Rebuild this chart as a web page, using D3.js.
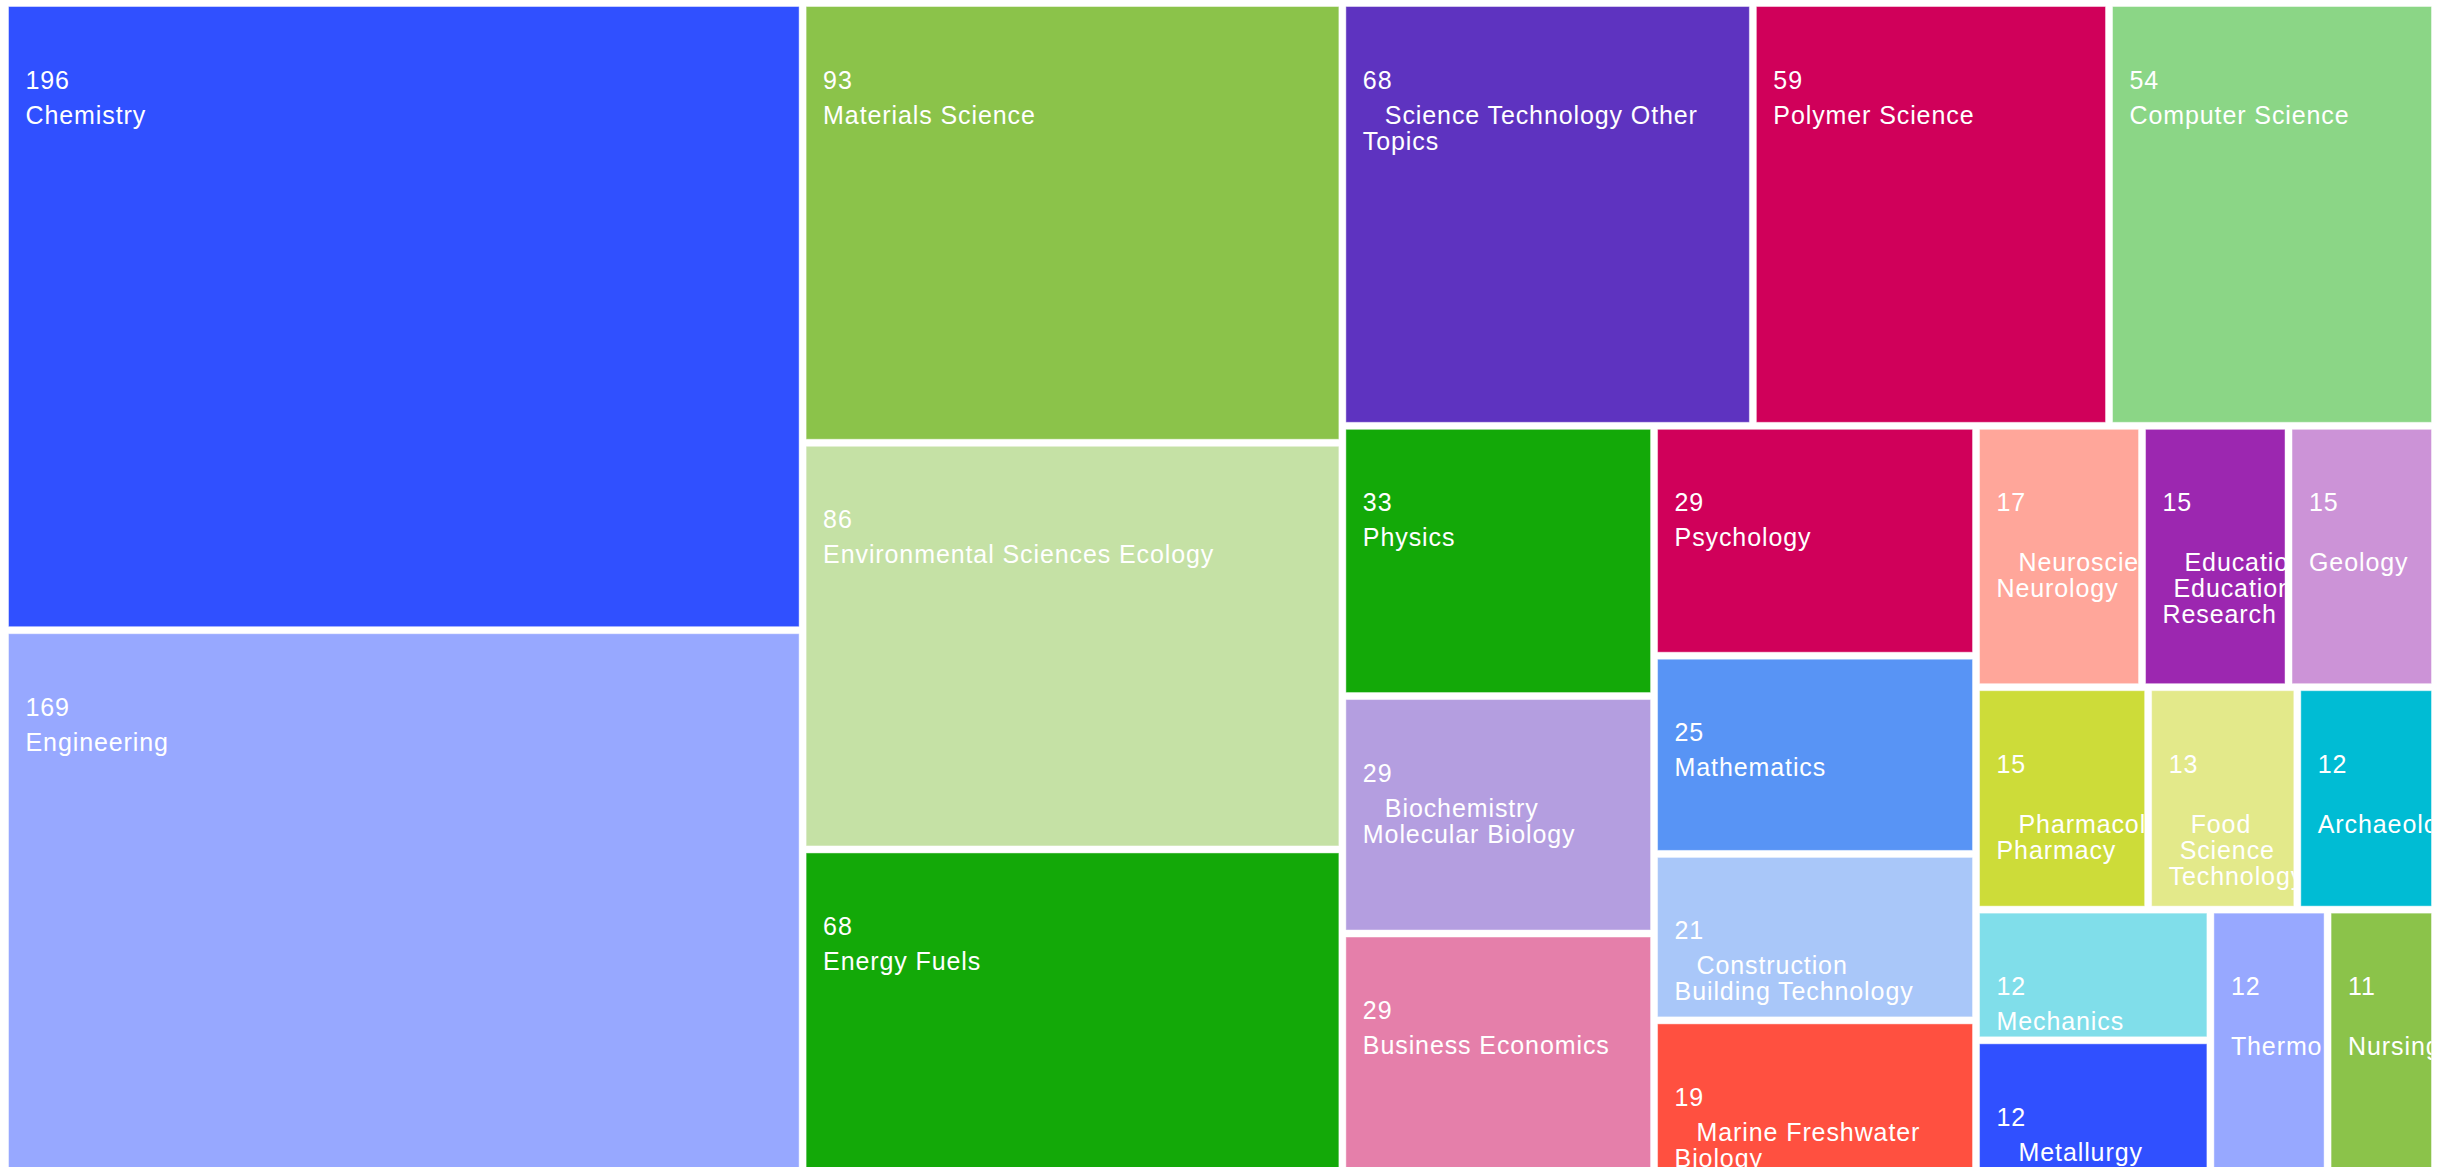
<!DOCTYPE html>
<html>
<head>
<meta charset="utf-8">
<script src="https://cdn.jsdelivr.net/npm/d3@7"></script>
<style>
  html, body { margin: 0; padding: 0; background: #ffffff; overflow: hidden; }
  svg { display: block; }
</style>
</head>
<body>
<svg id="chart" width="2453" height="1167"></svg>
<script>
// ---- Data ----
const categories = [
  "Chemistry", "Engineering", "Materials Science", "Environmental Sciences Ecology",
  "Energy Fuels", "Science Technology Other Topics", "Polymer Science", "Computer Science",
  "Physics", "Biochemistry Molecular Biology", "Business Economics", "Psychology",
  "Mathematics", "Construction Building Technology", "Marine Freshwater Biology",
  "Neurosciences Neurology", "Education Educational Research", "Geology",
  "Pharmacology Pharmacy", "Food Science Technology", "Archaeology", "Mechanics",
  "Metallurgy Metallurgical Engineering", "Thermodynamics", "Nursing"
];
const counts = [
  196, 169, 93, 86,
  68, 68, 59, 54,
  33, 29, 29, 29,
  25, 21, 19,
  17, 15, 15,
  15, 13, 12, 12,
  12, 12, 11
];
// label lines as they are wrapped in the reference
const labelLines = [
  ["Chemistry"], ["Engineering"], ["Materials Science"], ["Environmental Sciences Ecology"],
  ["Energy Fuels"], ["Science Technology Other", "Topics"], ["Polymer Science"], ["Computer Science"],
  ["Physics"], ["Biochemistry", "Molecular Biology"], ["Business Economics"], ["Psychology"],
  ["Mathematics"], ["Construction", "Building Technology"], ["Marine Freshwater", "Biology"],
  ["Neurosciences", "Neurology"], ["Education", "Educational", "Research"], ["Geology"],
  ["Pharmacology", "Pharmacy"], ["Food", "Science", "Technology"], ["Archaeology"], ["Mechanics"],
  ["Metallurgy", "Metallurgical", "Engineering"], ["Thermodynamics"], ["Nursing"]
];
const colors = [
  "#3050FF", "#97A8FF", "#8BC34A", "#C5E1A5",
  "#13A908", "#5E33C0", "#D0005A", "#8BD686",
  "#13A908", "#B49EE0", "#E57FAA", "#D0005A",
  "#5894F5", "#A9C7F9", "#FF5040",
  "#FFA69A", "#9C27B0", "#CC93D7",
  "#CDDC39", "#E3E98A", "#00BCD4", "#80DEEA",
  "#3050FF", "#97A8FF", "#8BC34A"
];

// ---- Layout ----
const W = 2453, H = 1167;
const areaX = 5, areaY = 3, areaW = 2430, areaH = 1168;
const gap = 3.5;          // half of the white gap between tiles
const fontSize = 25;

const svg = d3.select("#chart");

const root = d3.hierarchy({
    children: categories.map((name, i) => ({ name, value: counts[i], color: colors[i], lines: labelLines[i], idx: i }))
  })
  .sum(d => d.value || 0)
  .sort((a, b) => b.value - a.value);

d3.treemap()
  .tile(d3.treemapSquarify)
  .size([areaW, areaH])
  .round(false)(root);

const defs = svg.append("defs");
const tiles = svg.append("g").attr("transform", `translate(${areaX},${areaY})`);
const labels = svg.append("g")
  .attr("font-family", "'Liberation Sans', Arial, Helvetica, sans-serif")
  .attr("font-size", fontSize)
  .attr("letter-spacing", 0.9)
  .attr("fill", "#ffffff");

const leaves = root.leaves();

tiles.selectAll("rect")
  .data(leaves)
  .join("rect")
  .attr("x", d => d.x0 + gap)
  .attr("y", d => d.y0 + gap)
  .attr("width", d => Math.max(0, d.x1 - d.x0 - 2 * gap))
  .attr("height", d => Math.max(0, d.y1 - d.y0 - 2 * gap))
  .attr("fill", d => d.data.color)
  .attr("stroke", "rgba(255,255,255,0.45)")
  .attr("stroke-width", 1);

function fitText(textSel, rightEdge) {
  const node = textSel.node();
  let s = textSel.text();
  while (s.length > 1) {
    const n = node.getNumberOfChars();
    if (n < 1) break;
    const start = node.getStartPositionOfChar(n - 1).x;
    if (start < rightEdge - 2) break;
    s = s.slice(0, -1);
    textSel.text(s);
  }
}

leaves.forEach(d => {
  const x0 = areaX + d.x0 + gap, y0 = areaY + d.y0 + gap;
  const w = Math.max(0, d.x1 - d.x0 - 2 * gap);
  const h = Math.max(0, d.y1 - d.y0 - 2 * gap);
  const bottom = Math.min(y0 + h, H);
  const clipId = "clip" + d.data.idx;
  defs.append("clipPath").attr("id", clipId)
    .append("rect").attr("x", x0).attr("y", y0).attr("width", w).attr("height", h);

  const lg = labels.append("g").attr("clip-path", `url(#${clipId})`);
  const tx = x0 + 17;
  const vy = y0 + 82;
  lg.append("text").attr("x", tx).attr("y", vy).text(d.data.value);

  const lines = d.data.lines;
  const n = lines.length;
  const firstY = vy + (w < 200 ? 60 : 35);
  lines.forEach((ln, i) => {
    const y = firstY + 26 * i;
    if (y - 18 > bottom) return; // line lies wholly outside its tile: nothing visible
    const indent = n > 1 ? 22 * (n - 1 - i) / (n - 1) : 0;
    const t = lg.append("text")
      .attr("x", tx + indent)
      .attr("y", y)
      .text(ln);
    fitText(t, x0 + w);
  });
});
</script>
</body>
</html>
